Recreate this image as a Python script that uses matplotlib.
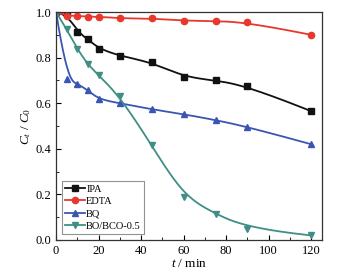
import matplotlib
matplotlib.use("Agg")
import matplotlib.pyplot as plt
import numpy as np

plt.rcParams["font.family"] = ["Liberation Serif", "DejaVu Serif"]
plt.rcParams["mathtext.fontset"] = "custom"
plt.rcParams["mathtext.rm"] = "Liberation Serif"
plt.rcParams["mathtext.it"] = "Liberation Serif:italic"

t_min = [0, 5, 10, 15, 20, 30, 45, 60, 75, 90, 120]
ipa = [1.0, 0.99, 0.913, 0.88, 0.84, 0.807, 0.78, 0.715, 0.70, 0.677, 0.565]
edta = [1.0, 0.984, 0.983, 0.98, 0.98, 0.972, 0.972, 0.962, 0.96, 0.956, 0.90]
bq = [1.0, 0.705, 0.686, 0.656, 0.617, 0.60, 0.573, 0.552, 0.526, 0.497, 0.42]
bo_bco = [1.0, 0.924, 0.836, 0.77, 0.722, 0.63, 0.415, 0.19, 0.115, 0.05, 0.02]

SERIES = [
    ("IPA", ipa, "#111111", "s"),
    ("EDTA", edta, "#e8372c", "o"),
    ("BQ", bq, "#3a55b4", "^"),
    ("BO/BCO-0.5", bo_bco, "#3f8f86", "v"),
]


def bspline_curve(x, y, n_out=400):
    # clamped cubic B-spline using the data points as control points
    # (same look as Origin's "B-Spline" connect style)
    pts = np.column_stack([x, y]).astype(float)
    n = len(pts)
    k = 3
    knots = np.concatenate([np.zeros(k), np.arange(n - k + 1), np.full(k, n - k)]).astype(float)
    u = np.linspace(0, n - k, n_out)
    u[-1] -= 1e-9

    def basis(i, p, uu):
        if p == 0:
            return ((knots[i] <= uu) & (uu < knots[i + 1])).astype(float)
        out = np.zeros_like(uu)
        d1 = knots[i + p] - knots[i]
        d2 = knots[i + p + 1] - knots[i + 1]
        if d1 > 0:
            out += (uu - knots[i]) / d1 * basis(i, p - 1, uu)
        if d2 > 0:
            out += (knots[i + p + 1] - uu) / d2 * basis(i + 1, p - 1, uu)
        return out

    curve = np.zeros((n_out, 2))
    for i in range(n):
        curve += basis(i, k, u)[:, None] * pts[i]
    return curve[:, 0], curve[:, 1]


fig = plt.figure(figsize=(3.62, 2.8), dpi=100)
ax = fig.add_axes([0.155, 0.143, 0.734, 0.814])

for name, vals, color, marker in SERIES:
    cx, cy = bspline_curve(t_min, vals)
    ax.plot(cx, cy, color=color, linewidth=1.3)
    ax.plot(t_min, vals, linestyle="none", marker=marker, markersize=4.5, color=color)
    ax.plot([], [], color=color, marker=marker, markersize=4.5, linewidth=1.3, label=name)

ax.set_xlim(0, 125)
ax.set_ylim(0, 1.0)
ax.set_xticks([0, 20, 40, 60, 80, 100, 120])
ax.set_xticks(np.arange(10, 125, 20), minor=True)
ax.set_yticks([0.0, 0.2, 0.4, 0.6, 0.8, 1.0])
ax.set_yticks([0.1, 0.3, 0.5, 0.7, 0.9], minor=True)
ax.yaxis.set_major_formatter(matplotlib.ticker.FormatStrFormatter("%.1f"))
ax.tick_params(direction="in", labelsize=9, length=3.5, width=0.8)
ax.tick_params(which="minor", direction="in", length=2, width=0.6)
for sp in ax.spines.values():
    sp.set_linewidth(0.9)
    sp.set_color("#333333")

ax.set_xlabel(r"$t$ / min", fontsize=9.5, labelpad=1)
ax.set_ylabel(r"$C_t$ / $C_0$", fontsize=9.5, labelpad=2)

leg = ax.legend(loc="lower left", fontsize=7.5, handlelength=1.9, handletextpad=0.15,
                labelspacing=0.3, borderpad=0.3, borderaxespad=0, frameon=True,
                fancybox=False, bbox_to_anchor=(0.021, 0.026))
leg.get_frame().set_edgecolor("#777777")
leg.get_frame().set_linewidth(0.8)

fig.savefig("out.png", dpi=100)
